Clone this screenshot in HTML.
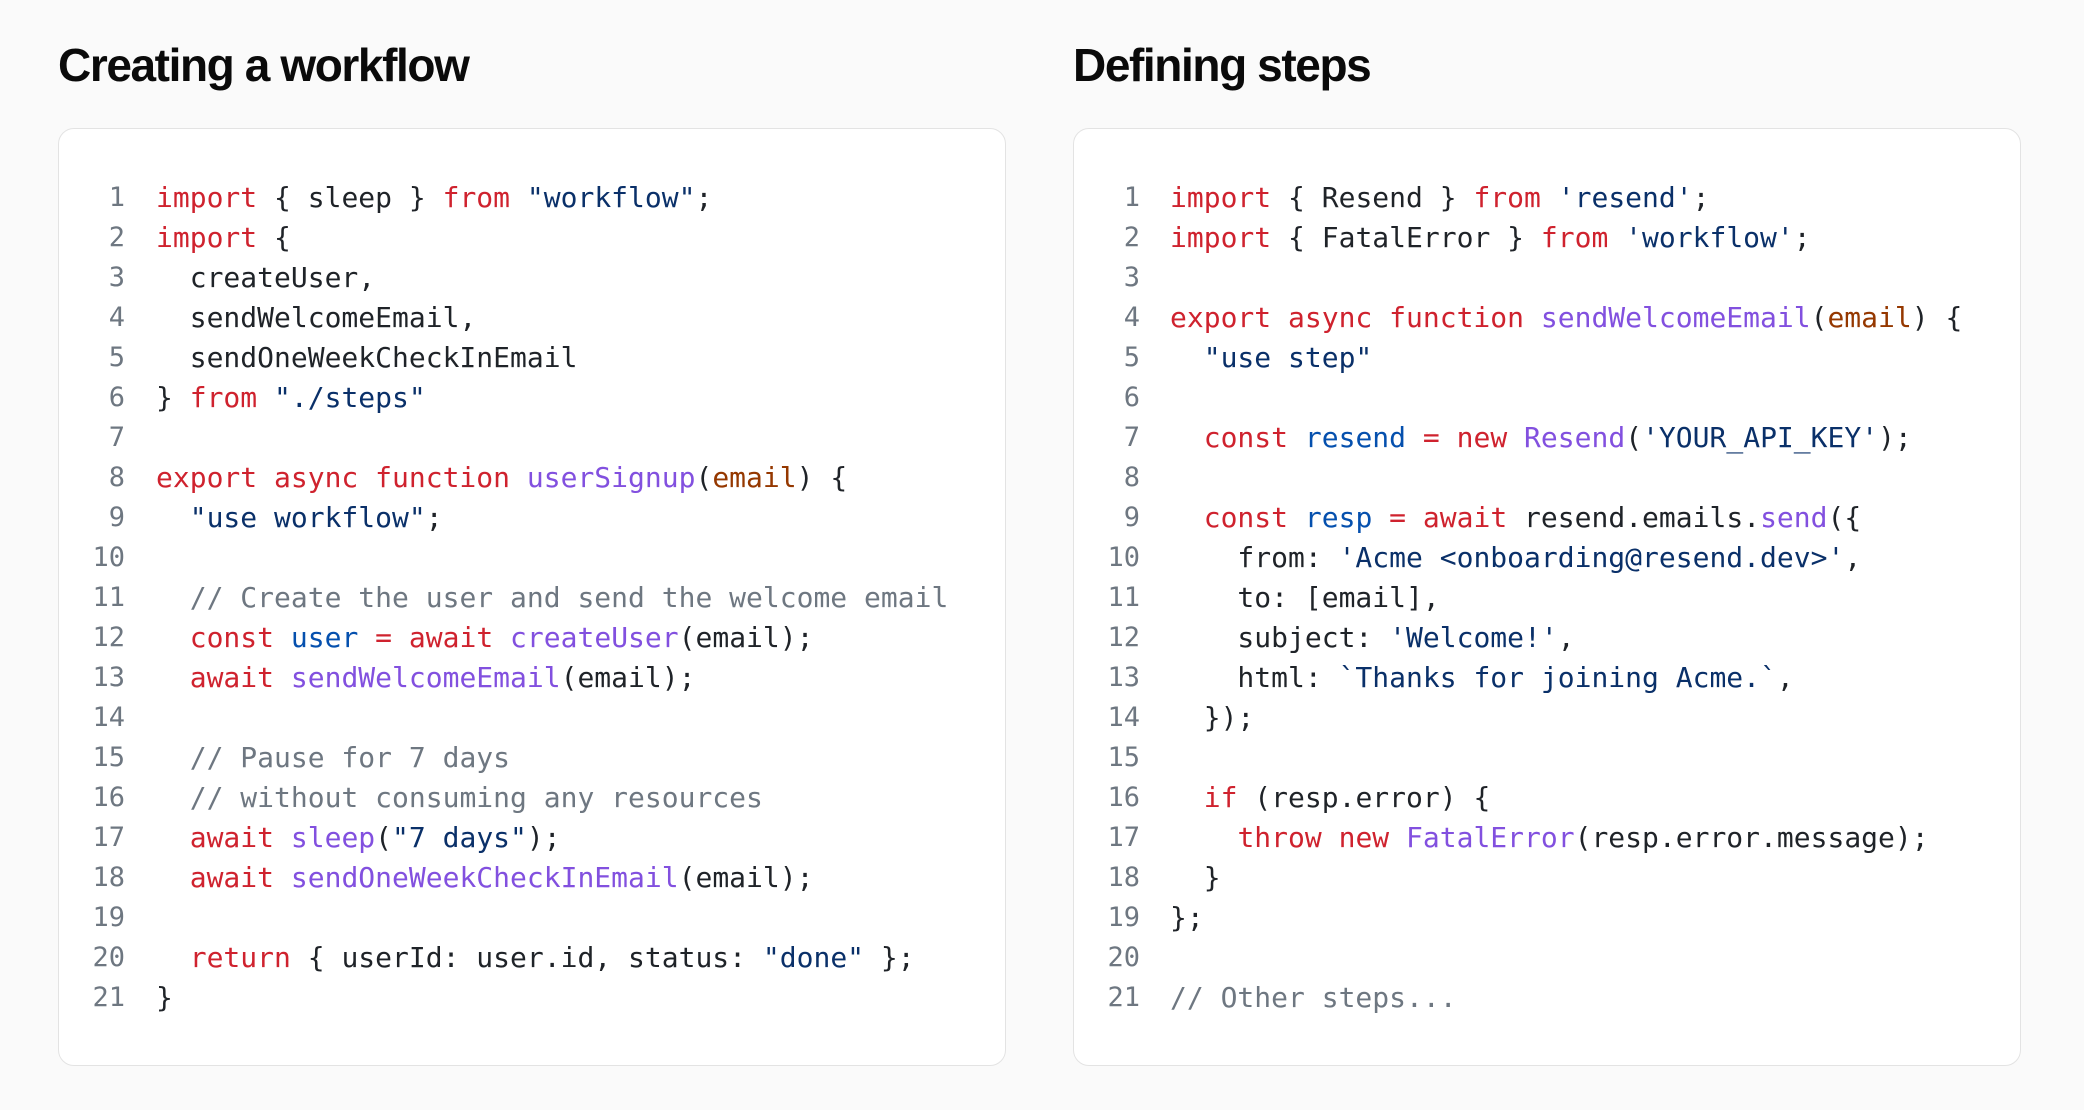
<!DOCTYPE html>
<html><head><meta charset="utf-8"><style>
html,body{margin:0;padding:0;background:#fafafa;}
body{width:2084px;height:1110px;position:relative;overflow:hidden;}
h1{position:absolute;margin:0;font-family:"Liberation Sans",sans-serif;font-weight:700;font-size:46px;letter-spacing:-1.4px;color:#0a0a0a;top:40px;line-height:50px;}
.box{position:absolute;top:128px;width:946px;height:936px;background:#fff;border:1px solid #e3e3e3;border-radius:16px;}
.num,.code{position:absolute;top:49px;font-family:"DejaVu Sans Mono","Liberation Mono",monospace;font-size:28px;line-height:40px;white-space:pre;}
.num{left:0;width:66px;text-align:right;color:#6e7781;font-size:27px;}
.code{color:#1f2328;}
.k{color:#cf222e}.s{color:#0a3069}.f{color:#8250df}.p{color:#953800}.c{color:#6e7781}.v{color:#0550ae}
</style></head><body>
<h1 style="left:58px">Creating a workflow</h1>
<h1 style="left:1073px">Defining steps</h1>
<div class="box" style="left:58px">
<div class="num">1
2
3
4
5
6
7
8
9
10
11
12
13
14
15
16
17
18
19
20
21</div>
<div class="code" style="left:97px"><span class="k">import</span> { sleep } <span class="k">from</span> <span class="s">"workflow"</span>;
<span class="k">import</span> {
  createUser,
  sendWelcomeEmail,
  sendOneWeekCheckInEmail
} <span class="k">from</span> <span class="s">"./steps"</span>

<span class="k">export async function</span> <span class="f">userSignup</span>(<span class="p">email</span>) {
  <span class="s">"use workflow"</span>;

  <span class="c">// Create the user and send the welcome email</span>
  <span class="k">const</span> <span class="v">user</span> <span class="k">=</span> <span class="k">await</span> <span class="f">createUser</span>(email);
  <span class="k">await</span> <span class="f">sendWelcomeEmail</span>(email);

  <span class="c">// Pause for 7 days</span>
  <span class="c">// without consuming any resources</span>
  <span class="k">await</span> <span class="f">sleep</span>(<span class="s">"7 days"</span>);
  <span class="k">await</span> <span class="f">sendOneWeekCheckInEmail</span>(email);

  <span class="k">return</span> { userId: user.id, status: <span class="s">"done"</span> };
}</div>
</div>
<div class="box" style="left:1073px">
<div class="num">1
2
3
4
5
6
7
8
9
10
11
12
13
14
15
16
17
18
19
20
21</div>
<div class="code" style="left:96px"><span class="k">import</span> { Resend } <span class="k">from</span> <span class="s">'resend'</span>;
<span class="k">import</span> { FatalError } <span class="k">from</span> <span class="s">'workflow'</span>;

<span class="k">export async function</span> <span class="f">sendWelcomeEmail</span>(<span class="p">email</span>) {
  <span class="s">"use step"</span>

  <span class="k">const</span> <span class="v">resend</span> <span class="k">=</span> <span class="k">new</span> <span class="f">Resend</span>(<span class="s">'YOUR_API_KEY'</span>);

  <span class="k">const</span> <span class="v">resp</span> <span class="k">=</span> <span class="k">await</span> resend.emails.<span class="f">send</span>({
    from: <span class="s">'Acme &lt;onboarding@resend.dev&gt;'</span>,
    to: [email],
    subject: <span class="s">'Welcome!'</span>,
    html: <span class="s">`Thanks for joining Acme.`</span>,
  });

  <span class="k">if</span> (resp.error) {
    <span class="k">throw new</span> <span class="f">FatalError</span>(resp.error.message);
  }
};

<span class="c">// Other steps...</span></div>
</div>
</body></html>
